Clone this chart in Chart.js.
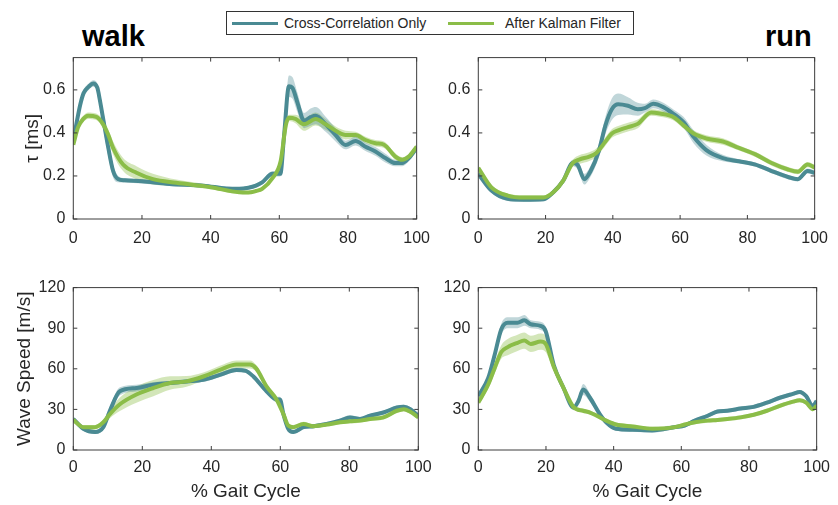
<!DOCTYPE html>
<html>
<head>
<meta charset="utf-8">
<script src="https://cdn.jsdelivr.net/npm/chart.js@4.4.0/dist/chart.umd.min.js"></script>
<style>
body { margin: 0; background: #fff; font-family: "Liberation Sans", Arial, sans-serif; }
#wrap { position: relative; width: 838px; height: 505px; overflow: hidden; background: #fff; }
.panel { position: absolute; }
.ttl { position: absolute; font-weight: bold; font-size: 29px; line-height: 1; color: #000; }
#legend { position: absolute; left: 226px; top: 11px; width: 406px; height: 22px; border: 1px solid #333; background: #fff; font-size: 14px; color: #262626; }
#legend .ln { position: absolute; top: 10px; height: 3px; width: 46px; }
#legend .tx { position: absolute; top: 3px; line-height: 16px; white-space: nowrap; }
</style>
</head>
<body>
<div id="wrap">
  <div class="ttl" style="left:82px; top:22px;">walk</div>
  <div class="ttl" style="left:765px; top:22px;">run</div>
  <div id="legend">
    <div class="ln" style="left:5px; background:#4a8a93;"></div>
    <div class="tx" style="left:57px;">Cross-Correlation Only</div>
    <div class="ln" style="left:221px; background:#8bbd48;"></div>
    <div class="tx" style="left:278px;">After Kalman Filter</div>
  </div>
  <canvas id="c1" class="panel" width="440" height="215" style="left:0px; top:40px;"></canvas>
  <canvas id="c2" class="panel" width="433" height="215" style="left:405px; top:40px;"></canvas>
  <canvas id="c3" class="panel" width="440" height="235" style="left:0px; top:270px;"></canvas>
  <canvas id="c4" class="panel" width="433" height="235" style="left:405px; top:270px;"></canvas>
</div>
<script>
// % gait cycle samples and values
// walk, tau [ms]
var walkTauCCx = [0, 1, 2, 3, 4.5, 5.8, 7, 7.7, 8.7, 10.2, 11.6, 13, 15, 20, 28, 38, 44.5, 48.3, 51, 53.2, 55, 58, 60.3, 61.4, 62.8, 63.8, 65.3, 67.2, 69.1, 70.6, 73.5, 76.4, 79.3, 82.2, 85.1, 88, 90.9, 93.8, 95.8, 97.7, 100];
var walkTauCC = [0.36, 0.45, 0.53, 0.585, 0.615, 0.63, 0.61, 0.556, 0.465, 0.33, 0.223, 0.186, 0.18, 0.175, 0.163, 0.155, 0.142, 0.14, 0.145, 0.155, 0.17, 0.21, 0.21, 0.39, 0.617, 0.61, 0.54, 0.457, 0.473, 0.48, 0.44, 0.39, 0.344, 0.362, 0.336, 0.314, 0.283, 0.26, 0.26, 0.283, 0.33];
var walkTauCCsd = [0.01, 0.015, 0.015, 0.015, 0.015, 0.015, 0.02, 0.03, 0.04, 0.04, 0.03, 0.015, 0.01, 0.01, 0.01, 0.008, 0.008, 0.008, 0.008, 0.01, 0.01, 0.012, 0.012, 0.03, 0.05, 0.05, 0.045, 0.035, 0.04, 0.04, 0.035, 0.03, 0.02, 0.02, 0.02, 0.02, 0.02, 0.015, 0.015, 0.015, 0.015];
var walkTauKFx = [0, 1.4, 2.9, 4.3, 6.7, 8.7, 10.2, 11.6, 14.5, 18.4, 23.2, 30, 40, 48.3, 51, 53.2, 55, 58, 60.4, 61.9, 62.8, 64.7, 67.2, 70.6, 73.5, 76.4, 79.3, 82.2, 85.1, 88, 90.5, 93.8, 95.8, 97.7, 100];
var walkTauKF = [0.345, 0.427, 0.465, 0.48, 0.475, 0.44, 0.39, 0.33, 0.253, 0.215, 0.185, 0.168, 0.148, 0.124, 0.123, 0.13, 0.14, 0.19, 0.27, 0.435, 0.47, 0.465, 0.44, 0.465, 0.44, 0.41, 0.39, 0.39, 0.367, 0.352, 0.345, 0.29, 0.275, 0.29, 0.336];
var walkTauKFsd = [0.01, 0.015, 0.015, 0.015, 0.015, 0.02, 0.025, 0.03, 0.03, 0.03, 0.025, 0.015, 0.01, 0.008, 0.008, 0.008, 0.008, 0.01, 0.012, 0.015, 0.015, 0.02, 0.03, 0.03, 0.025, 0.02, 0.02, 0.015, 0.015, 0.015, 0.015, 0.015, 0.012, 0.012, 0.012];

// run, tau [ms]
var runTauCCx = [0, 3.9, 8.7, 13.5, 19.4, 22.3, 25.2, 28.1, 29.6, 31.5, 33.4, 35.8, 37.8, 39.7, 41.6, 44.5, 47.4, 49.5, 52, 55, 58.1, 61, 64, 67.8, 72.7, 77.5, 82.4, 87.2, 92.1, 95, 97.9, 100];
var runTauCC = [0.21, 0.132, 0.094, 0.09, 0.092, 0.124, 0.177, 0.26, 0.25, 0.185, 0.223, 0.314, 0.435, 0.51, 0.533, 0.526, 0.51, 0.515, 0.535, 0.52, 0.488, 0.45, 0.382, 0.32, 0.283, 0.268, 0.253, 0.223, 0.195, 0.185, 0.223, 0.215];
var runTauCCsd = [0.01, 0.01, 0.01, 0.01, 0.01, 0.01, 0.012, 0.015, 0.02, 0.025, 0.025, 0.03, 0.04, 0.05, 0.05, 0.04, 0.03, 0.02, 0.02, 0.02, 0.02, 0.025, 0.03, 0.025, 0.015, 0.01, 0.01, 0.01, 0.01, 0.01, 0.012, 0.012];
var runTauKFx = [0, 3.9, 8.7, 13.5, 19.4, 22.3, 25.2, 28.1, 30, 33, 35, 37.8, 39.7, 41.6, 44.5, 47.4, 51.4, 54, 58.1, 61, 64, 67.8, 72.7, 77.5, 82.4, 87.2, 92.1, 95, 97.9, 100];
var runTauKF = [0.238, 0.147, 0.109, 0.10, 0.10, 0.124, 0.177, 0.26, 0.276, 0.29, 0.306, 0.36, 0.397, 0.412, 0.427, 0.442, 0.495, 0.49, 0.473, 0.435, 0.397, 0.374, 0.36, 0.33, 0.30, 0.26, 0.23, 0.22, 0.253, 0.24];
var runTauKFsd = [0.01, 0.01, 0.01, 0.01, 0.01, 0.01, 0.012, 0.015, 0.02, 0.02, 0.02, 0.02, 0.02, 0.02, 0.02, 0.02, 0.015, 0.015, 0.015, 0.015, 0.015, 0.015, 0.015, 0.012, 0.012, 0.012, 0.012, 0.012, 0.012, 0.012];

// walk, wave speed [m/s]
var walkSpdCCx = [0, 2.9, 6.3, 8.7, 10.6, 13.5, 18.3, 23.2, 28, 32.8, 37.7, 42.5, 47.3, 50, 52.2, 56, 58.9, 59.9, 60.9, 62.3, 63.8, 66.7, 69.6, 73.5, 77.3, 80.2, 83.1, 86, 89.9, 93.8, 95.8, 97.7, 100];
var walkSpdCC = [23, 15.7, 13.3, 16.9, 29, 43.4, 45.8, 48.3, 49.5, 50.7, 51.9, 55.5, 59.2, 58.5, 54.3, 43.4, 37.4, 37.4, 26.5, 15.7, 13.3, 16.9, 17.6, 19.3, 21.7, 24.1, 22.9, 25.3, 27.7, 31.4, 31.9, 30.2, 25.3];
var walkSpdCCsd = [1.5, 1.5, 1.5, 2, 3, 3, 2.5, 2, 1.5, 1.5, 1.5, 1.5, 1.5, 1.5, 1.5, 1.5, 2, 2, 2, 2, 1.5, 1.5, 1.5, 1.5, 1.5, 1.5, 1.5, 1.5, 1.5, 1.5, 1.5, 1.5, 1.5];
var walkSpdKFx = [0, 2.9, 6.3, 8.7, 10.6, 13.5, 18.3, 23.2, 28, 32.8, 37.7, 42.5, 47.3, 51.2, 53, 56, 58.9, 60.9, 62.3, 63.8, 66.7, 69.6, 73.5, 77.3, 80.2, 83.1, 86, 89.9, 93.8, 95.8, 97.7, 100];
var walkSpdKF = [22.2, 16.9, 16.9, 20.5, 26.5, 33.8, 41, 45.8, 49.5, 50.7, 54.3, 59.2, 63.2, 63.2, 60.3, 47, 37.4, 26.5, 18.1, 16.9, 19.3, 17.6, 18.8, 20.5, 21.2, 21.7, 22.9, 24.1, 29, 30.2, 28.2, 24.1];
var walkSpdKFsd = [1.5, 1.5, 1.5, 2, 3, 5, 6, 6, 5, 4, 3, 3, 3, 3, 2.5, 2, 1.5, 1.5, 1.5, 1.5, 1.5, 1.5, 1.5, 1.5, 1.5, 1.5, 1.5, 1.5, 1.5, 1.5, 1.5, 1.5];

// run, wave speed [m/s]
var runSpdCCx = [0, 2.9, 4.8, 6.8, 8.7, 11.6, 13.6, 15.5, 18.4, 19.9, 22.3, 25.2, 28.1, 29.6, 31, 33, 35.9, 37.8, 40.7, 45.6, 51.4, 58.1, 61, 64, 67.8, 70.7, 73.6, 77.5, 81.4, 85.3, 89.1, 93, 95, 96.9, 98.8, 100];
var runSpdCC = [39.8, 53, 70, 89.3, 94, 94, 95.8, 92.9, 91.7, 88, 62.8, 45.8, 31.4, 36.2, 44.7, 38.6, 26.5, 20.5, 15.7, 15, 14.5, 16.9, 18.1, 21.7, 25.3, 28.5, 29, 30.6, 31.9, 35, 38.6, 41.5, 42.9, 39.8, 32.6, 36.2];
var runSpdCCsd = [2, 2, 3, 4, 4, 4, 4, 3, 3, 3, 3, 2, 2, 3, 4, 3, 2, 2, 1.5, 1.5, 1.5, 1.5, 1.5, 1.5, 1.5, 1.5, 1.5, 1.5, 1.5, 1.5, 1.5, 1.5, 1.5, 1.5, 1.5, 1.5];
var runSpdKFx = [0, 2.9, 4.8, 6.8, 8.7, 11.6, 13.6, 15.5, 18.4, 19.9, 22.3, 25.2, 28.1, 31, 33, 35, 37.8, 40.7, 45.6, 51.4, 58.1, 61, 64, 67.8, 70.7, 73.6, 77.5, 81.4, 85.3, 89.1, 93, 95, 96.9, 98.8, 100];
var runSpdKF = [35, 48.3, 60.3, 72.4, 76, 79.2, 80.9, 78.4, 80.1, 78.4, 61.5, 45.8, 31.9, 29, 27.7, 25.3, 21.7, 18.8, 17.4, 15.7, 16.9, 18.8, 20.5, 21.7, 22.2, 22.9, 24.1, 26, 29, 32.6, 35.7, 36.7, 35, 30.2, 32.6];
var runSpdKFsd = [2, 3, 4, 5, 6, 6, 6, 6, 6, 6, 3, 2, 1.5, 1.5, 1.5, 1.5, 1.5, 1.5, 1.5, 1.5, 1.5, 1.5, 1.5, 1.5, 1.5, 1.5, 1.5, 1.5, 1.5, 1.5, 1.5, 1.5, 1.5, 1.5, 1.5];

var xTicks = [0, 20, 40, 60, 80, 100];
var tauTicks = [0, 0.2, 0.4, 0.6];
var spdTicks = [0, 30, 60, 90, 120];

var ccColor = '#4a8a93', ccBand = 'rgba(74,138,147,0.35)';
var kfColor = '#8bbd48', kfBand = 'rgba(139,189,72,0.38)';
var txtColor = '#262626';
var fontFam = '"Liberation Sans", Arial, sans-serif';

Chart.defaults.font.family = fontFam;

// mean (sign 0) or mean +/- sd
function pts(xs, ys, sd, sign) {
  return xs.map(function (x, i) {
    var off = (sd && sign) ? sign * sd[i] : 0;
    return { x: x, y: ys[i] + off };
  });
}

// MATLAB-like box with inward ticks on all four sides
var frame = {
  id: 'frame',
  afterDraw: function (chart) {
    var ctx = chart.ctx, a = chart.chartArea, sx = chart.scales.x, sy = chart.scales.y;
    ctx.save();
    ctx.strokeStyle = '#3c3c3c';
    ctx.lineWidth = 1;
    ctx.strokeRect(a.left, a.top, a.right - a.left, a.bottom - a.top);
    ctx.beginPath();
    sx.ticks.forEach(function (t) {
      var p = sx.getPixelForValue(t.value);
      ctx.moveTo(p, a.bottom); ctx.lineTo(p, a.bottom - 4);
      ctx.moveTo(p, a.top); ctx.lineTo(p, a.top + 4);
    });
    sy.ticks.forEach(function (t) {
      var p = sy.getPixelForValue(t.value);
      ctx.moveTo(a.left, p); ctx.lineTo(a.left + 4, p);
      ctx.moveTo(a.right, p); ctx.lineTo(a.right - 4, p);
    });
    ctx.stroke();
    ctx.restore();
  }
};

function panel(id, cc, kf, yMax, yTicks, yTitle, yTitlePad, xTitle, padRight, xHeight, xPad) {
  var line = function (data, color) {
    return { data: data, borderColor: color, borderWidth: 4, pointRadius: 0, fill: false, cubicInterpolationMode: 'monotone' };
  };
  var edge = function (data, fill, band) {
    return { data: data, borderWidth: 0, borderColor: 'rgba(0,0,0,0)', backgroundColor: band, pointRadius: 0, fill: fill, cubicInterpolationMode: 'monotone' };
  };
  new Chart(document.getElementById(id), {
    type: 'line',
    data: {
      datasets: [
        line(pts(kf.x, kf.y), kfColor),
        line(pts(cc.x, cc.y), ccColor),
        edge(pts(cc.x, cc.y, cc.sd, 1), false, ccBand),
        edge(pts(cc.x, cc.y, cc.sd, -1), '-1', ccBand),
        edge(pts(kf.x, kf.y, kf.sd, 1), false, kfBand),
        edge(pts(kf.x, kf.y, kf.sd, -1), '-1', kfBand)
      ]
    },
    plugins: [frame],
    options: {
      responsive: false,
      animation: false,
      layout: { padding: { left: 0, top: 14, right: padRight, bottom: 0 } },
      plugins: { legend: { display: false }, tooltip: { enabled: false } },
      scales: {
        x: {
          type: 'linear', min: 0, max: 100,
          afterBuildTicks: function (s) { s.ticks = xTicks.map(function (v) { return { value: v }; }); },
          afterFit: function (s) { s.height = xHeight; },
          grid: { display: false, drawTicks: false },
          border: { display: false },
          ticks: { padding: xPad, color: txtColor, maxRotation: 0, font: { size: 16 } },
          title: { display: !!xTitle, text: xTitle, color: txtColor, font: { size: 19 }, padding: { top: 0, bottom: 2 } }
        },
        y: {
          type: 'linear', min: 0, max: yMax,
          afterBuildTicks: function (s) { s.ticks = yTicks.map(function (v) { return { value: v }; }); },
          afterFit: function (s) { s.width = 73.3; },
          grid: { display: false, drawTicks: false },
          border: { display: false },
          ticks: { padding: 8, color: txtColor, font: { size: 16 }, callback: function (v) { return String(v); } },
          title: { display: !!yTitle, text: yTitle, color: txtColor, font: { size: 19 }, padding: { top: yTitlePad, bottom: 0 } }
        }
      }
    }
  });
}

panel('c1', { x: walkTauCCx, y: walkTauCC, sd: walkTauCCsd }, { x: walkTauKFx, y: walkTauKF, sd: walkTauKFsd }, 0.75, tauTicks, 'τ [ms]', 21, '', 21.7, 36, 10);
panel('c2', { x: runTauCCx, y: runTauCC, sd: runTauCCsd }, { x: runTauKFx, y: runTauKF, sd: runTauKFsd }, 0.75, tauTicks, '', 0, '', 15.7, 36, 10);
panel('c3', { x: walkSpdCCx, y: walkSpdCC, sd: walkSpdCCsd }, { x: walkSpdKFx, y: walkSpdKF, sd: walkSpdKFsd }, 120, spdTicks, 'Wave Speed [m/s]', 13, '% Gait Cycle', 21.7, 55, 8);
panel('c4', { x: runSpdCCx, y: runSpdCC, sd: runSpdCCsd }, { x: runSpdKFx, y: runSpdKF, sd: runSpdKFsd }, 120, spdTicks, '', 0, '% Gait Cycle', 15.7, 55, 8);
</script>
</body>
</html>
